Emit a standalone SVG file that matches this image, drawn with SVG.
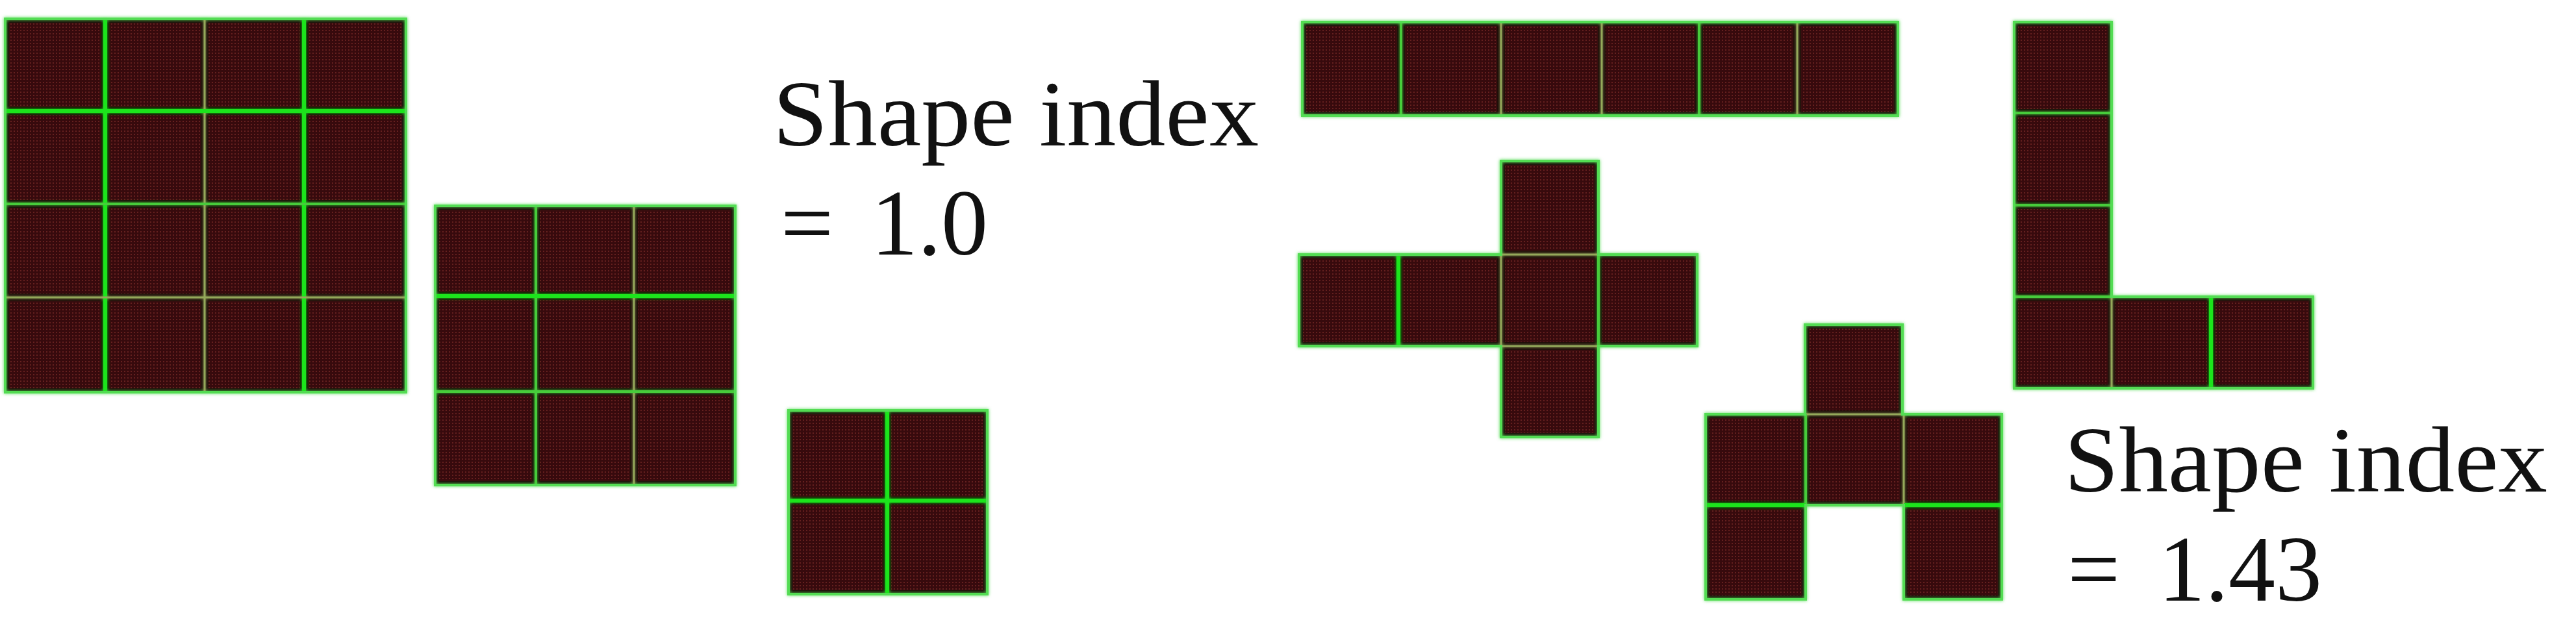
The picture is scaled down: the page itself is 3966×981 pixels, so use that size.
<svg xmlns="http://www.w3.org/2000/svg" width="3966" height="981" viewBox="0 0 3966 981">
<style>
.cell{fill:url(#dots);stroke:#190605;stroke-width:6}
.out{fill:none;stroke:#52dc52;stroke-width:4;stroke-linejoin:miter}
.gb{stroke:#1fe41f;stroke-width:6;fill:none}
.gm{stroke:#46cc3a;stroke-width:4;fill:none}
.go{stroke:#94a85a;stroke-width:3;fill:none}
.lbl{font-family:"Liberation Serif","Times New Roman",serif;font-size:144px;fill:#111}
</style>
<defs>
<pattern id="dots" width="5" height="5" patternUnits="userSpaceOnUse">
<rect width="5" height="5" fill="#370a0d"/>
<rect x="1" y="1" width="2" height="2" fill="#65201f"/>
</pattern>
<filter id="glow" filterUnits="userSpaceOnUse" x="0" y="0" width="3966" height="981">
<feGaussianBlur stdDeviation="2.5" result="b"/>
<feMerge><feMergeNode in="b"/><feMergeNode in="SourceGraphic"/></feMerge>
</filter>
</defs>
<rect width="3966" height="981" fill="#ffffff"/>

<g id="shape-4x4">
<g>
<rect class="cell" x="11" y="32" width="148" height="136"/><rect class="cell" x="165" y="32" width="147" height="136"/><rect class="cell" x="318" y="32" width="147" height="136"/><rect class="cell" x="471" y="32" width="151" height="136"/>
<rect class="cell" x="11" y="174" width="148" height="137"/><rect class="cell" x="165" y="174" width="147" height="137"/><rect class="cell" x="318" y="174" width="147" height="137"/><rect class="cell" x="471" y="174" width="151" height="137"/>
<rect class="cell" x="11" y="317" width="148" height="138"/><rect class="cell" x="165" y="317" width="147" height="138"/><rect class="cell" x="318" y="317" width="147" height="138"/><rect class="cell" x="471" y="317" width="151" height="138"/>
<rect class="cell" x="11" y="461" width="148" height="140"/><rect class="cell" x="165" y="461" width="147" height="140"/><rect class="cell" x="318" y="461" width="147" height="140"/><rect class="cell" x="471" y="461" width="151" height="140"/>
</g>
<g filter="url(#glow)">
<line class="gb" x1="162" y1="29" x2="162" y2="604"/>
<line class="go" x1="315" y1="29" x2="315" y2="604"/>
<line class="gb" x1="468" y1="29" x2="468" y2="604"/>
<line class="gb" x1="8" y1="171" x2="625" y2="171"/>
<line class="gm" x1="8" y1="314" x2="625" y2="314"/>
<line class="go" x1="8" y1="458" x2="625" y2="458"/>
<rect class="out" x="8" y="29" width="617" height="575"/>
</g>
</g>

<g id="shape-3x3">
<g>
<rect class="cell" x="673" y="320" width="149" height="133"/><rect class="cell" x="828" y="320" width="145" height="133"/><rect class="cell" x="979" y="320" width="150" height="133"/>
<rect class="cell" x="673" y="459" width="149" height="141"/><rect class="cell" x="828" y="459" width="145" height="141"/><rect class="cell" x="979" y="459" width="150" height="141"/>
<rect class="cell" x="673" y="606" width="149" height="138"/><rect class="cell" x="828" y="606" width="145" height="138"/><rect class="cell" x="979" y="606" width="150" height="138"/>
</g>
<g filter="url(#glow)">
<line class="gm" x1="825" y1="317" x2="825" y2="747"/>
<line class="go" x1="976" y1="317" x2="976" y2="747"/>
<line class="gb" x1="670" y1="456" x2="1132" y2="456"/>
<line class="gm" x1="670" y1="603" x2="1132" y2="603"/>
<rect class="out" x="670" y="317" width="462" height="430"/>
</g>
</g>

<g id="shape-2x2">
<g>
<rect class="cell" x="1217" y="635" width="146" height="133"/><rect class="cell" x="1369" y="635" width="148" height="133"/>
<rect class="cell" x="1217" y="774" width="146" height="138"/><rect class="cell" x="1369" y="774" width="148" height="138"/>
</g>
<g filter="url(#glow)">
<line class="gb" x1="1366" y1="632" x2="1366" y2="915"/>
<line class="gb" x1="1214" y1="771" x2="1520" y2="771"/>
<rect class="out" x="1214" y="632" width="306" height="283"/>
</g>
</g>

<g id="label-left">
<text class="lbl" x="1190" y="224" textLength="748" lengthAdjust="spacingAndGlyphs">Shape index</text>
<text class="lbl" y="392"><tspan x="1202">=</tspan><tspan x="1341">1.0</tspan></text>
</g>

<g id="shape-bar">
<g>
<rect class="cell" x="2008" y="37" width="146" height="138"/><rect class="cell" x="2160" y="37" width="148" height="138"/><rect class="cell" x="2314" y="37" width="149" height="138"/><rect class="cell" x="2469" y="37" width="144" height="138"/><rect class="cell" x="2619" y="37" width="145" height="138"/><rect class="cell" x="2770" y="37" width="149" height="138"/>
</g>
<g filter="url(#glow)">
<line class="gm" x1="2157" y1="34" x2="2157" y2="178"/>
<line class="go" x1="2311" y1="34" x2="2311" y2="178"/>
<line class="go" x1="2466" y1="34" x2="2466" y2="178"/>
<line class="gm" x1="2616" y1="34" x2="2616" y2="178"/>
<line class="go" x1="2767" y1="34" x2="2767" y2="178"/>
<rect class="out" x="2005" y="34" width="917" height="144"/>
</g>
</g>

<g id="shape-cross">
<g>
<rect class="cell" x="2314" y="251" width="144" height="138"/>
<rect class="cell" x="2003" y="395" width="147" height="135"/><rect class="cell" x="2156" y="395" width="152" height="135"/><rect class="cell" x="2314" y="395" width="144" height="135"/><rect class="cell" x="2464" y="395" width="146" height="135"/>
<rect class="cell" x="2314" y="536" width="144" height="134"/>
</g>
<g filter="url(#glow)">
<line class="gb" x1="2153" y1="392" x2="2153" y2="533"/>
<line class="go" x1="2311" y1="392" x2="2311" y2="533"/>
<line class="gm" x1="2461" y1="392" x2="2461" y2="533"/>
<line class="go" x1="2311" y1="392" x2="2461" y2="392"/>
<line class="go" x1="2311" y1="533" x2="2461" y2="533"/>
<polygon class="out" points="2311,248 2461,248 2461,392 2613,392 2613,533 2461,533 2461,673 2311,673 2311,533 2000,533 2000,392 2311,392"/>
</g>
</g>

<g id="shape-arch">
<g>
<rect class="cell" x="2782" y="503" width="144" height="132"/>
<rect class="cell" x="2629" y="641" width="148" height="134"/><rect class="cell" x="2783" y="641" width="145" height="134"/><rect class="cell" x="2934" y="641" width="145" height="134"/>
<rect class="cell" x="2629" y="781" width="148" height="139"/><rect class="cell" x="2934" y="781" width="145" height="139"/>
</g>
<g filter="url(#glow)">
<line class="go" x1="2779" y1="638" x2="2929" y2="638"/>
<line class="gm" x1="2780" y1="638" x2="2780" y2="778"/>
<line class="go" x1="2931" y1="638" x2="2931" y2="778"/>
<line class="gb" x1="2626" y1="778" x2="2780" y2="778"/>
<line class="gb" x1="2931" y1="778" x2="3082" y2="778"/>
<polygon class="out" points="2779,500 2929,500 2929,638 3082,638 3082,923 2931,923 2931,778 2780,778 2780,923 2626,923 2626,638 2779,638"/>
</g>
</g>

<g id="shape-L">
<g>
<rect class="cell" x="3104" y="37" width="144" height="134"/>
<rect class="cell" x="3104" y="177" width="144" height="136"/>
<rect class="cell" x="3104" y="319" width="144" height="135"/>
<rect class="cell" x="3104" y="460" width="144" height="135"/><rect class="cell" x="3254" y="460" width="147" height="135"/><rect class="cell" x="3407" y="460" width="151" height="135"/>
</g>
<g filter="url(#glow)">
<line class="gm" x1="3101" y1="174" x2="3251" y2="174"/>
<line class="gm" x1="3101" y1="316" x2="3251" y2="316"/>
<line class="gm" x1="3101" y1="457" x2="3251" y2="457"/>
<line class="go" x1="3251" y1="457" x2="3251" y2="598"/>
<line class="gb" x1="3404" y1="457" x2="3404" y2="598"/>
<polygon class="out" points="3101,34 3251,34 3251,457 3561,457 3561,598 3101,598"/>
</g>
</g>

<g id="label-right">
<text class="lbl" x="3178" y="757" textLength="744" lengthAdjust="spacingAndGlyphs">Shape index</text>
<text class="lbl" y="925"><tspan x="3183">=</tspan><tspan x="3323">1.43</tspan></text>
</g>
</svg>
